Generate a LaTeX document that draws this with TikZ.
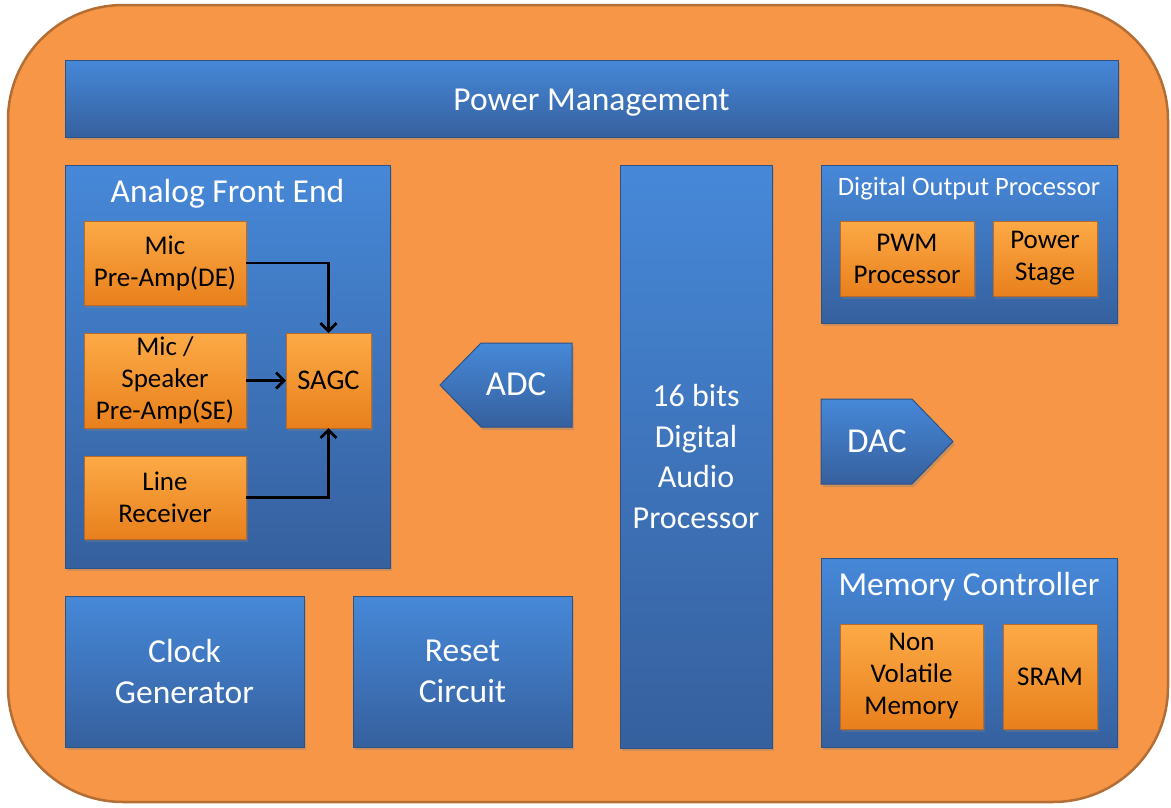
\documentclass[tikz,border=0pt]{standalone}
\usepackage{fontspec}
\setmainfont{Carlito}
\usetikzlibrary{shadows,arrows.meta}
\definecolor{bgor}{RGB}{247,150,70}
\definecolor{bgedge}{RGB}{178,110,52}
\definecolor{bluetop}{RGB}{70,136,216}
\definecolor{bluebot}{RGB}{54,96,158}
\definecolor{blueedge}{RGB}{44,82,135}
\definecolor{ortop}{RGB}{252,170,70}
\definecolor{orbot}{RGB}{232,128,28}
\definecolor{oredge}{RGB}{185,105,40}
\begin{document}
\begin{tikzpicture}[x=1pt,y=-1pt,
  shad/.style={drop shadow={shadow xshift=2pt,shadow yshift=-3pt,opacity=0.35}},
  bluebox/.style={shad,draw=blueedge,line width=1pt,top color=bluetop,bottom color=bluebot,
    text=white,inner sep=0pt,outer sep=0pt,align=center,font=\fontsize{33.5}{40.5}\selectfont},
  orbox/.style={shad,draw=oredge,line width=1pt,top color=ortop,bottom color=orbot,
    text=black,inner sep=0pt,outer sep=0pt,align=center,font=\fontsize{27}{32}\selectfont},
  title/.style={text=white,anchor=base,inner sep=0pt,font=\fontsize{33.5}{40}\selectfont},
  smalltitle/.style={text=white,anchor=base,inner sep=0pt,font=\fontsize{26.5}{30}\selectfont},
  conn/.style={line width=2.8pt,-{Straight Barb[length=8pt,width=16pt,line width=2.8pt]}}
]
\useasboundingbox (0,0) rectangle (1171,807);
% outer board
\draw[fill=bgor,draw=bgedge,line width=2.5pt,rounded corners=115pt] (8,5) rectangle (1168,802);

% power management
\node[bluebox,minimum width=1053pt,minimum height=77pt] (pm) at (591.5,98.5) {};
\node[title] (pmt) at (591.5,110) {Power Management};

% analog front end
\node[bluebox,minimum width=325pt,minimum height=403pt] (afe) at (227.5,366.5) {};
\node[title] (afet) at (227.5,202) {Analog Front End};
\node[orbox,minimum width=162pt,minimum height=84pt] (micde) at (165,263) {Mic\\Pre-Amp(DE)};
\node[orbox,minimum width=162pt,minimum height=95pt] (micse) at (165,380.5) {Mic /\\Speaker\\Pre-Amp(SE)};
\node[orbox,minimum width=162pt,minimum height=83pt] (line) at (165,497.5) {Line\\Receiver};
\node[orbox,minimum width=85pt,minimum height=95pt,font=\fontsize{28.5}{32}\selectfont] (sagc) at (328.5,380.5) {SAGC};
\draw[conn] (micde.east) -| (sagc.north);
\draw[conn] (micse.east) -- (sagc.west);
\draw[conn] (line.east) -| (sagc.south);

% ADC
\shade[shad,draw=blueedge,line width=1pt,top color=bluetop,bottom color=bluebot]
  (440,385) -- (481,343) -- (572,343) -- (572,427) -- (481,427) -- cycle;
\node[title,font=\fontsize{35}{40}\selectfont] (adc) at (516,395) {ADC};

% DAP
\node[bluebox,minimum width=152pt,minimum height=583pt,font=\fontsize{32}{40.5}\selectfont] (dap) at (696,456.5) {16 bits\\Digital\\Audio\\Processor};

% digital output processor
\node[bluebox,minimum width=296pt,minimum height=158pt] (dop) at (969,244) {};
\node[smalltitle] (dopt) at (969,195) {Digital Output Processor};
\node[orbox,minimum width=134pt,minimum height=75pt] (pwm) at (907,258.5) {PWM\\Processor};
\node[orbox,minimum width=104pt,minimum height=75pt] (pst) at (1045,258.5) {Power\\Stage};

% DAC
\shade[shad,draw=blueedge,line width=1pt,top color=bluetop,bottom color=bluebot]
  (821,399) -- (912,399) -- (953,441.5) -- (912,484) -- (821,484) -- cycle;
\node[title,font=\fontsize{35}{40}\selectfont] (dac) at (877,452) {DAC};

% memory controller
\node[bluebox,minimum width=296pt,minimum height=189pt] (mc) at (969,652.5) {};
\node[title] (mct) at (969,595) {Memory Controller};
\node[orbox,minimum width=143pt,minimum height=105pt] (nvm) at (911.5,676.5) {Non\\Volatile\\Memory};
\node[orbox,minimum width=94pt,minimum height=105pt] (sram) at (1050,676.5) {SRAM};

% clock and reset
\node[bluebox,minimum width=239pt,minimum height=151pt] (clk) at (184.5,671.5) {Clock\\Generator};
\node[bluebox,minimum width=219pt,minimum height=151pt] (rst) at (462.5,671.5) {Reset\\Circuit};
\end{tikzpicture}
\end{document}
